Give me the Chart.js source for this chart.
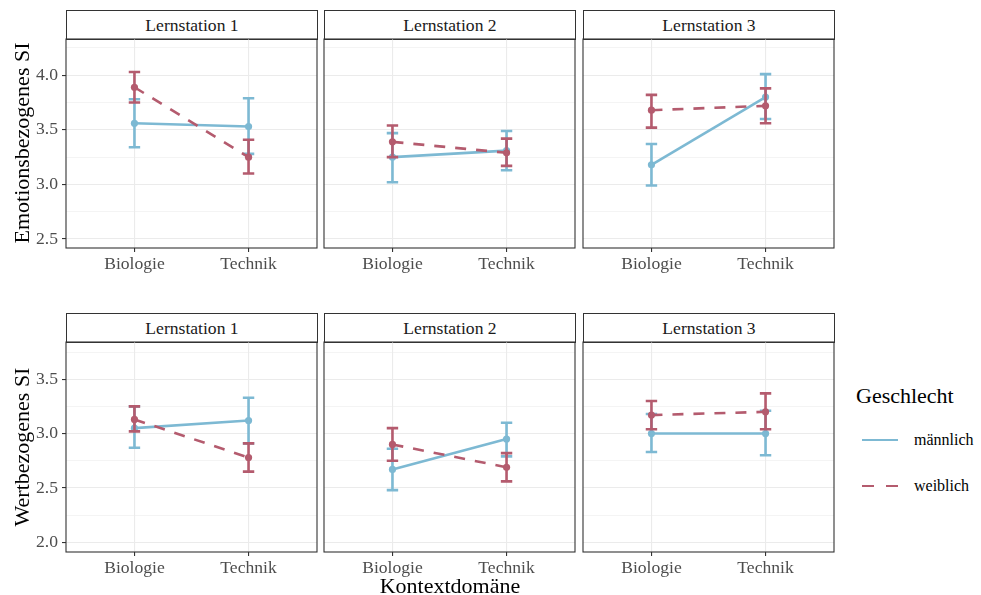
<!DOCTYPE html>
<html>
<head>
<meta charset="utf-8">
<script src="https://cdn.jsdelivr.net/npm/chart.js@4/dist/chart.umd.min.js"></script>
<style>
body { margin: 0; background: #fff; }
#wrap { position: relative; width: 981px; height: 595px; font-family: 'Liberation Serif', 'Times New Roman', serif; overflow: hidden; }
#wrap canvas { position: absolute; }
.strip { position: absolute; box-sizing: border-box; border: 1px solid #333; background: #fff; font-size: 17.6px; color: #1a1a1a; text-align: center; font-family: 'Liberation Serif', serif; }
.lab { position: absolute; white-space: nowrap; transform: translate(-50%, -50%); font-family: 'Liberation Serif', serif; }
.key { position: absolute; height: 2.6px; width: 36px; }
</style>
</head>
<body>
<div id="wrap"></div>
<script>
const categories = ['Biologie', 'Technik'];
const stations = ['Lernstation 1', 'Lernstation 2', 'Lernstation 3'];
const groups = ['männlich', 'weiblich'];

// Emotionsbezogenes SI  [station][kontext]
const emoMean_m = [[3.56, 3.53], [3.25, 3.31], [3.18, 3.80]];
const emoLow_m  = [[3.34, 3.28], [3.02, 3.13], [2.99, 3.60]];
const emoHigh_m = [[3.78, 3.79], [3.47, 3.49], [3.37, 4.01]];
const emoMean_w = [[3.89, 3.25], [3.39, 3.29], [3.68, 3.72]];
const emoLow_w  = [[3.75, 3.10], [3.25, 3.17], [3.52, 3.56]];
const emoHigh_w = [[4.03, 3.41], [3.54, 3.42], [3.82, 3.88]];

// Wertbezogenes SI
const wertMean_m = [[3.05, 3.12], [2.67, 2.95], [3.00, 3.00]];
const wertLow_m  = [[2.87, 2.91], [2.48, 2.79], [2.83, 2.80]];
const wertHigh_m = [[3.25, 3.33], [2.86, 3.10], [3.18, 3.21]];
const wertMean_w = [[3.13, 2.78], [2.90, 2.69], [3.17, 3.20]];
const wertLow_w  = [[3.02, 2.65], [2.75, 2.56], [3.04, 3.04]];
const wertHigh_w = [[3.25, 2.91], [3.05, 2.82], [3.30, 3.37]];

const emoTicks = [2.5, 2.75, 3.0, 3.25, 3.5, 3.75, 4.0, 4.25];
const wertTicks = [2.0, 2.25, 2.5, 2.75, 3.0, 3.25, 3.5, 3.75];

const BLUE = '#7db9d3';
const RED = '#b45b6e';
const GRID = '#ebebeb';
const FONT = "'Liberation Serif', 'Times New Roman', serif";

// layout
const colLeft = [66, 324, 583];
const panelW = 251;
const rowTop = [39, 342];
const rowH = [209, 210];
const PAD = 20, XAX = 30, SIDE = 8;

const wrap = document.getElementById('wrap');

const isMajor = v => Math.abs(v * 2 - Math.round(v * 2)) < 1e-6;

const errorBars = {
  id: 'errorBars',
  afterDatasetDraw(chart, args) {
    const ds = chart.data.datasets[args.index];
    const xs = chart.scales.x, ys = chart.scales.y;
    const ctx = chart.ctx;
    ctx.save();
    ctx.strokeStyle = ds.borderColor;
    ctx.lineWidth = 2.6;
    ctx.setLineDash([]);
    ds.errLow.forEach((lo, i) => {
      const px = xs.getPixelForValue(i + 1);
      const half = xs.getPixelForValue(i + 1.05) - px;
      const yl = ys.getPixelForValue(lo), yh = ys.getPixelForValue(ds.errHigh[i]);
      ctx.beginPath();
      ctx.moveTo(px, yl); ctx.lineTo(px, yh);
      ctx.moveTo(px - half, yl); ctx.lineTo(px + half, yl);
      ctx.moveTo(px - half, yh); ctx.lineTo(px + half, yh);
      ctx.stroke();
    });
    ctx.restore();
  }
};

const frame = {
  id: 'frame',
  afterDraw(chart) {
    const a = chart.chartArea, ctx = chart.ctx;
    ctx.save();
    ctx.strokeStyle = '#333';
    ctx.lineWidth = 1.1;
    ctx.strokeRect(a.left, a.top, a.right - a.left, a.bottom - a.top);
    ctx.restore();
  }
};

function addLabel(text, cx, cy, size, color, rotate) {
  const d = document.createElement('div');
  d.className = 'lab';
  d.textContent = text;
  d.style.left = cx + 'px';
  d.style.top = cy + 'px';
  d.style.fontSize = size + 'px';
  d.style.color = color;
  if (rotate) d.style.transform = 'translate(-50%, -50%) rotate(-90deg)';
  wrap.appendChild(d);
}

function makePanel(row, col, mMean, mLow, mHigh, wMean, wLow, wHigh, yMin, yMax, yTicks) {
  const padL = col === 0 ? 0 : SIDE;
  const axW = col === 0 ? colLeft[0] : 0;
  const left = colLeft[col] - axW - padL;
  const top = rowTop[row] - PAD;
  const w = padL + axW + panelW + SIDE;
  const h = PAD + rowH[row] + XAX;

  const strip = document.createElement('div');
  strip.className = 'strip';
  strip.style.left = colLeft[col] + 'px';
  strip.style.top = (rowTop[row] - 29) + 'px';
  strip.style.width = (panelW + 1) + 'px';
  strip.style.height = '30px';
  strip.style.lineHeight = '28px';
  strip.textContent = stations[col];
  wrap.appendChild(strip);

  const cv = document.createElement('canvas');
  cv.width = w; cv.height = h;
  cv.style.left = left + 'px';
  cv.style.top = top + 'px';
  cv.style.width = w + 'px';
  cv.style.height = h + 'px';
  wrap.appendChild(cv);

  const pts = arr => arr.map((v, i) => ({ x: i + 1, y: v }));

  new Chart(cv, {
    type: 'line',
    data: {
      datasets: [
        { label: groups[0], data: pts(mMean), errLow: mLow, errHigh: mHigh,
          borderColor: BLUE, backgroundColor: BLUE, borderWidth: 2.6,
          pointRadius: 3.6, pointHoverRadius: 3.6, pointBorderWidth: 0, order: 1 },
        { label: groups[1], data: pts(wMean), errLow: wLow, errHigh: wHigh,
          borderColor: RED, backgroundColor: RED, borderWidth: 2.6, borderDash: [11, 10],
          pointRadius: 3.6, pointHoverRadius: 3.6, pointBorderWidth: 0, order: 0 }
      ]
    },
    options: {
      responsive: false,
      animation: false,
      events: [],
      layout: { padding: { top: PAD, right: SIDE, bottom: 0, left: padL } },
      plugins: { legend: { display: false }, tooltip: { enabled: false } },
      scales: {
        x: {
          type: 'linear', min: 0.4, max: 2.6,
          afterBuildTicks: s => { s.ticks = categories.map((c, i) => ({ value: i + 1 })); },
          afterFit: s => { s.height = XAX; },
          ticks: { callback: v => categories[v - 1], color: '#4d4d4d', padding: 2,
                   font: { family: FONT, size: 17.6 }, maxRotation: 0, autoSkip: false },
          grid: { color: GRID, lineWidth: 1.1, tickLength: 4, tickColor: '#333', tickWidth: 1.1 },
          border: { display: false }
        },
        y: {
          min: yMin, max: yMax,
          afterBuildTicks: s => { s.ticks = yTicks.map(v => ({ value: v })); },
          afterFit: s => { s.width = axW; },
          ticks: { display: col === 0, callback: v => isMajor(v) ? v.toFixed(1) : '',
                   color: '#4d4d4d', padding: 4, font: { family: FONT, size: 17.6 } },
          grid: { drawTicks: col === 0, tickLength: 4, tickWidth: 1.1,
                  color: GRID,
                  lineWidth: c => isMajor(c.tick.value) ? 1.1 : 0.55,
                  tickColor: c => isMajor(c.tick.value) ? '#333' : 'rgba(0,0,0,0)' },
          border: { display: false }
        }
      }
    },
    plugins: [errorBars, frame]
  });
}

for (let c = 0; c < 3; c++) {
  makePanel(0, c, emoMean_m[c], emoLow_m[c], emoHigh_m[c], emoMean_w[c], emoLow_w[c], emoHigh_w[c], 2.418, 4.332, emoTicks);
  makePanel(1, c, wertMean_m[c], wertLow_m[c], wertHigh_m[c], wertMean_w[c], wertLow_w[c], wertHigh_w[c], 1.911, 3.842, wertTicks);
}

addLabel('Emotionsbezogenes SI', 22, 143, 22, '#000', true);
addLabel('Wertbezogenes SI', 22, 447, 22, '#000', true);
addLabel('Kontextdomäne', 450, 586, 22, '#000', false);

// legend
const legTitle = document.createElement('div');
legTitle.className = 'lab';
legTitle.style.transform = 'none';
legTitle.style.left = '856px'; legTitle.style.top = '383px';
legTitle.style.fontSize = '22px';
legTitle.textContent = 'Geschlecht';
wrap.appendChild(legTitle);

const keyY = [440, 486];
const keyBg = [BLUE, 'repeating-linear-gradient(to right, ' + RED + ' 0 12px, transparent 12px 24px)'];
groups.forEach((g, i) => {
  const k = document.createElement('div');
  k.className = 'key';
  k.style.left = '862px';
  k.style.top = (keyY[i] - 1.3) + 'px';
  k.style.background = keyBg[i];
  wrap.appendChild(k);
  const t = document.createElement('div');
  t.className = 'lab';
  t.style.transform = 'translate(0, -50%)';
  t.style.left = '914px'; t.style.top = keyY[i] + 'px';
  t.style.fontSize = '16px';
  t.textContent = g;
  wrap.appendChild(t);
});
</script>
</body>
</html>
